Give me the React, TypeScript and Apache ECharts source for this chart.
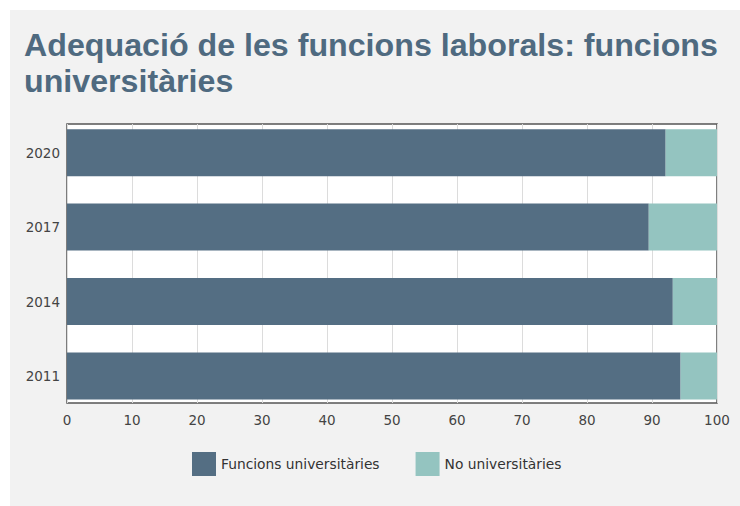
import React, { useEffect, useRef } from "react";
import * as echarts from "echarts";

const years = ["2011", "2014", "2017", "2020"];
const universitaries = [94.4, 93.2, 89.5, 92.1];
const noUniversitaries = [5.6, 6.8, 10.5, 7.9];
const seriesNames = ["Funcions universitàries", "No universitàries"];
const titleText = "Adequació de les funcions laborals: funcions\nuniversitàries";

const DARK = "#546e83";
const LIGHT = "#94c4c0";
const FONT = "DejaVu Sans";

export default function App() {
  const ref = useRef<HTMLDivElement>(null);
  useEffect(() => {
    if (!ref.current) return;
    const chart = echarts.init(ref.current, null, { renderer: "svg" });
    chart.setOption({
      animation: false,
      backgroundColor: "#ffffff",
      graphic: [
        {
          type: "rect",
          z: -10,
          shape: { x: 10, y: 10, width: 730, height: 496 },
          style: { fill: "#f2f2f2" },
          silent: true,
        },
      ],
      title: {
        text: titleText,
        left: 24,
        top: 27,
        padding: 0,
        textStyle: {
          fontFamily: "Liberation Sans",
          fontSize: 32.2,
          fontWeight: "bold",
          color: "#4f6a80",
          lineHeight: 36,
        },
      },
      legend: {
        left: 192,
        top: 452,
        padding: 0,
        icon: "rect",
        itemWidth: 24,
        itemHeight: 24,
        itemGap: 36,
        textStyle: { fontFamily: FONT, fontSize: 13.8, color: "#333" },
        data: seriesNames,
      },
      grid: [
        {
          left: 67,
          right: 23,
          top: 124,
          height: 279,
          show: true,
          backgroundColor: "#ffffff",
          borderColor: "#555",
          borderWidth: 1.5,
        },
        {
          left: 67,
          right: 23,
          top: 115.5,
          height: 297.6,
          show: false,
        },
      ],
      xAxis: [
        {
          gridIndex: 0,
          type: "value",
          min: 0,
          max: 100,
          interval: 10,
          axisLine: { show: false },
          axisTick: { show: false },
          splitLine: { show: true, lineStyle: { color: "#dcdcdc", width: 1 } },
          axisLabel: { fontFamily: FONT, fontSize: 13.5, color: "#444", margin: 10 },
        },
        {
          gridIndex: 1,
          type: "value",
          min: 0,
          max: 100,
          show: false,
        },
      ],
      yAxis: [
        { gridIndex: 0, type: "value", show: false },
        {
          gridIndex: 1,
          type: "category",
          data: years,
          axisLine: { show: false },
          axisTick: { show: false },
          splitLine: { show: false },
          axisLabel: { fontFamily: FONT, fontSize: 13.5, color: "#444", margin: 7 },
        },
      ],
      series: [
        {
          name: seriesNames[0],
          type: "bar",
          stack: "total",
          xAxisIndex: 1,
          yAxisIndex: 1,
          barWidth: 47,
          itemStyle: { color: DARK },
          data: universitaries,
        },
        {
          name: seriesNames[1],
          type: "bar",
          stack: "total",
          xAxisIndex: 1,
          yAxisIndex: 1,
          barWidth: 47,
          itemStyle: { color: LIGHT },
          data: noUniversitaries,
        },
      ],
    });
    return () => chart.dispose();
  }, []);
  return (
    <div
      ref={ref}
      style={{ position: "fixed", left: 0, top: 0, width: 740, height: 506 }}
    />
  );
}
